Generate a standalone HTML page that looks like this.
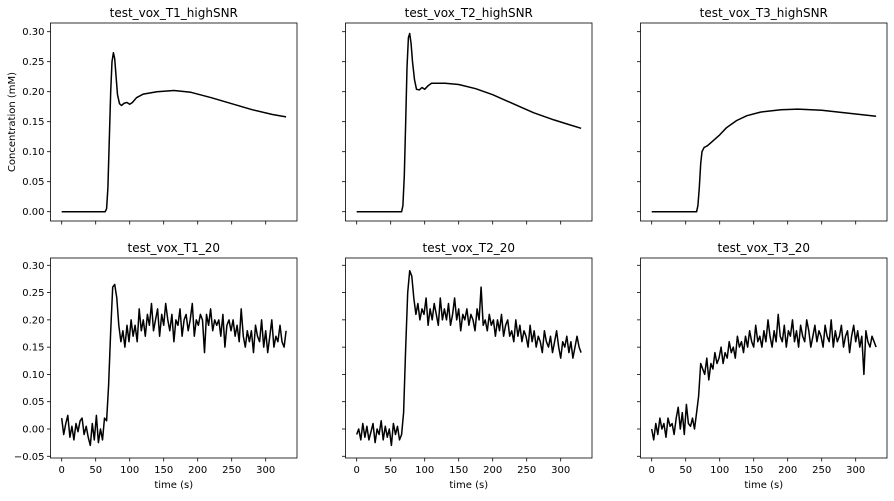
<!DOCTYPE html>
<html><head><meta charset="utf-8"><style>
body{margin:0;background:#fff}
svg text{font-family:"DejaVu Sans","Liberation Sans",sans-serif;fill:#000}
</style></head><body>
<svg id="c" width="894" height="496" xmlns="http://www.w3.org/2000/svg"></svg>
<script>
const xTicks=[0,50,100,150,200,250,300];
const yTicksTop=[0,0.05,0.10,0.15,0.20,0.25,0.30];
const yTicksBot=[-0.05,0,0.05,0.10,0.15,0.20,0.25,0.30];
const titles=["test_vox_T1_highSNR","test_vox_T2_highSNR","test_vox_T3_highSNR","test_vox_T1_20","test_vox_T2_20","test_vox_T3_20"];
const t1hT=[0,64,66,68,70,72,74,76,78,80,82,85,88,92,96,100,104,110,120,140,165,190,220,250,280,310,330];
const t1hV=[0,0,0.005,0.04,0.12,0.2,0.25,0.265,0.255,0.225,0.195,0.18,0.177,0.181,0.182,0.179,0.182,0.19,0.196,0.2,0.202,0.199,0.19,0.18,0.17,0.162,0.158];
const t2hT=[0,66,68,70,72,74,76,78,80,82,85,88,92,96,100,105,110,130,150,175,200,230,260,290,310,330];
const t2hV=[0,0,0.01,0.06,0.15,0.24,0.29,0.297,0.28,0.25,0.22,0.204,0.203,0.207,0.204,0.21,0.214,0.214,0.212,0.205,0.195,0.18,0.165,0.153,0.146,0.139];
const t3hT=[0,66,68,70,72,74,77,82,90,100,110,125,140,160,190,215,250,290,330];
const t3hV=[0,0,0.01,0.04,0.08,0.1,0.107,0.11,0.118,0.128,0.14,0.152,0.16,0.166,0.17,0.171,0.169,0.164,0.159];
const noiseStep=3;
const t1n=[0.02,-0.01,0.01,0.025,-0.015,0.005,-0.02,0.01,-0.005,0.015,0.02,-0.01,0.005,-0.015,-0.03,0.01,-0.02,0.025,-0.025,0.0,-0.02,0.02,0.015,
0.08,0.18,0.26,0.265,0.24,0.19,0.16,0.18,0.15,0.19,0.16,0.2,0.17,0.19,0.16,0.22,0.18,0.2,0.17,0.21,0.19,0.23,0.18,0.2,0.22,0.17,0.21,0.19,0.23,0.2,0.18,0.21,0.16,0.2,0.19,0.22,0.17,0.2,0.21,0.18,0.2,0.23,0.17,0.2,0.19,0.21,0.2,0.14,0.21,0.19,0.22,0.18,0.2,0.19,0.2,0.17,0.21,0.15,0.19,0.2,0.18,0.2,0.17,0.19,0.16,0.22,0.17,0.15,0.18,0.16,0.18,0.14,0.19,0.17,0.16,0.2,0.15,0.18,0.14,0.17,0.2,0.15,0.17,0.16,0.19,0.16,0.15,0.18];
const t2n=[-0.01,0.0,-0.02,0.01,-0.015,0.005,-0.02,-0.005,0.01,-0.025,0.0,-0.01,0.015,-0.02,0.005,-0.015,0.0,-0.03,0.01,-0.01,0.005,-0.02,-0.01,
0.03,0.15,0.25,0.29,0.28,0.24,0.21,0.23,0.2,0.22,0.21,0.24,0.19,0.22,0.2,0.23,0.21,0.19,0.24,0.2,0.22,0.2,0.23,0.19,0.21,0.24,0.2,0.22,0.18,0.21,0.2,0.22,0.19,0.21,0.2,0.18,0.22,0.2,0.26,0.19,0.2,0.18,0.21,0.19,0.2,0.17,0.2,0.18,0.21,0.17,0.19,0.2,0.17,0.18,0.16,0.2,0.17,0.19,0.16,0.18,0.17,0.15,0.19,0.16,0.18,0.15,0.17,0.16,0.14,0.18,0.16,0.15,0.17,0.14,0.16,0.18,0.15,0.13,0.16,0.15,0.17,0.14,0.16,0.13,0.15,0.17,0.15,0.14];
const t3n=[0.0,-0.02,0.01,-0.01,0.02,0.0,0.01,-0.015,0.02,0.005,0.01,-0.01,0.02,0.04,0.0,0.03,-0.01,0.045,0.01,0.005,0.02,0.0,0.03,
0.06,0.12,0.11,0.1,0.13,0.09,0.12,0.11,0.14,0.12,0.13,0.15,0.12,0.14,0.13,0.16,0.14,0.15,0.13,0.17,0.15,0.16,0.14,0.17,0.15,0.18,0.16,0.15,0.19,0.16,0.17,0.15,0.18,0.16,0.2,0.17,0.15,0.18,0.16,0.21,0.17,0.16,0.19,0.15,0.18,0.17,0.2,0.16,0.18,0.15,0.19,0.17,0.16,0.2,0.18,0.15,0.17,0.19,0.16,0.18,0.17,0.15,0.19,0.17,0.16,0.2,0.15,0.18,0.16,0.17,0.19,0.15,0.17,0.18,0.14,0.17,0.19,0.16,0.18,0.15,0.17,0.1,0.18,0.16,0.15,0.17,0.16,0.15];

const svg=document.getElementById('c');const NS='http://www.w3.org/2000/svg';
function mk(tag,attrs,txt){const e=document.createElementNS(NS,tag);for(const k in attrs)e.setAttribute(k,attrs[k]);if(txt!==undefined)e.textContent=txt;svg.appendChild(e);return e;}
const colLeft=[50.5,345.5,640.5],colW=246.5,x0off=11.2,xs=0.68;
const rows=[{top:23,bot:221,y0:211.7,ys:600,ticks:yTicksTop},{top:258,bot:458,y0:429,ys:545.7,ticks:yTicksBot}];
function X(c,t){return colLeft[c]+x0off+t*xs;}
function Y(r,v){return rows[r].y0-v*rows[r].ys;}
const fmt=v=>v.toFixed(2).replace('-','\u2212');
const smooth=[[t1hT,t1hV],[t2hT,t2hV],[t3hT,t3hV]];const noisy=[t1n,t2n,t3n];
for(let r=0;r<2;r++)for(let c=0;c<3;c++){
 const R=rows[r],L=colLeft[c];
 const fr=mk('rect',{x:L,y:R.top,width:colW,height:R.bot-R.top,fill:'none',stroke:'#000','stroke-width':0.8});
 
 
 const tt=mk('text',{x:L+colW/2,y:R.top-6,'text-anchor':'middle','font-size':12},titles[r*3+c]);
 
 
 for(const v of R.ticks){const y=Y(r,v);mk('line',{x1:L-3.5,x2:L,y1:y,y2:y,stroke:'#000','stroke-width':0.8});
  if(c===0){const t=mk('text',{x:L-6,y:y+3.5,'text-anchor':'end','font-size':10},fmt(v));
   
   }}
 for(const v of xTicks){const x=X(c,v);mk('line',{x1:x,x2:x,y1:R.bot,y2:R.bot+3.5,stroke:'#000','stroke-width':0.8});
  if(r===1){const t=mk('text',{x:x,y:R.bot+15,'text-anchor':'middle','font-size':10},String(v));
   
   }}
 let pts;
 if(r===0){const [T,V]=smooth[c];pts=T.map((t,i)=>X(c,t).toFixed(1)+','+Y(0,V[i]).toFixed(1));}
 else{pts=noisy[c].map((v,i)=>X(c,i*noiseStep).toFixed(1)+','+Y(1,v).toFixed(1));}
 const pl=mk('polyline',{points:pts.join(' '),fill:'none',stroke:'#000','stroke-width':1.5,'stroke-linejoin':'round'});
 
 
 if(r===1){const xl=mk('text',{x:L+colW/2,y:488,'text-anchor':'middle','font-size':10},'time (s)');
  
  }
}
const yl=mk('text',{x:15,y:122,'text-anchor':'middle','font-size':10,transform:'rotate(-90 15 122)'},'Concentration (mM)');


</script>
</body></html>
